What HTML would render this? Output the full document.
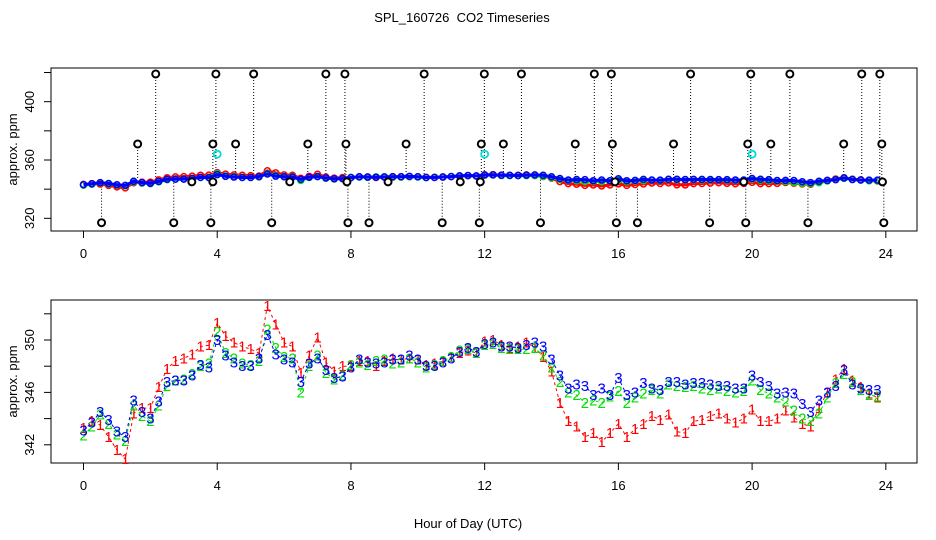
<!DOCTYPE html>
<html><head><meta charset="utf-8"><style>
html,body{margin:0;padding:0;background:#fff;}
svg{display:block;font-family:"Liberation Sans",sans-serif;}
</style></head><body>
<svg id="c" width="936" height="540" viewBox="0 0 936 540">
<text x="462" y="22" font-size="13" text-anchor="middle" style="white-space:pre">SPL_160726  CO2 Timeseries</text>
<text x="468" y="528" font-size="13" text-anchor="middle">Hour of Day (UTC)</text>
<g id="topPanel"></g>
<g id="botPanel"></g>
</svg>
<script>
const xTicks=[0,4,8,12,16,20,24];
const topTicks=[320,340,360,380,400,420];
const topLabels=[320,360,400];
const botTicks=[342,344,346,348,350,352];
const botLabels=[342,346,350];
const step=0.25;
const series3=[343.1,343.7,344.5,343.9,343.0,342.6,345.4,344.5,344.0,345.3,346.8,346.9,346.9,347.3,348.1,347.9,350.0,348.8,348.3,348.0,348.0,348.6,350.4,348.9,348.5,348.3,346.8,348.2,348.6,347.7,347.1,347.2,347.9,348.5,348.3,348.2,348.3,348.5,348.5,348.8,348.5,348.0,348.0,348.3,348.6,349.1,349.4,349.1,349.7,349.8,349.5,349.5,349.4,349.6,349.8,349.5,348.5,347.3,346.3,346.6,346.5,345.8,346.3,345.8,347.1,345.8,346.0,346.7,346.3,346.2,346.8,346.8,346.6,346.7,346.7,346.6,346.5,346.5,346.3,346.3,347.3,346.8,346.5,345.9,346.0,345.9,345.1,344.5,345.4,346.0,346.5,347.7,346.6,346.3,346.2,346.2];
const series2=[342.7,343.4,344.3,343.6,342.8,342.3,345.0,344.2,343.8,345.0,346.5,346.9,347.0,347.4,348.0,348.2,350.6,349.0,348.6,348.2,348.1,348.4,350.8,349.4,348.7,348.6,346.0,348.0,348.8,347.5,347.0,347.3,348.1,348.3,348.1,348.4,348.5,348.2,348.3,348.6,348.3,347.9,348.1,348.4,348.7,349.2,349.3,349.0,349.6,349.7,349.4,349.3,349.3,349.3,349.4,348.8,347.9,346.8,346.0,345.8,345.2,345.4,345.2,345.7,346.1,345.2,345.6,345.9,346.2,345.9,346.6,346.5,346.4,346.5,346.3,346.2,346.3,346.1,346.0,346.1,346.9,346.2,345.9,345.6,345.3,344.6,344.0,343.8,344.4,345.6,346.7,347.4,346.8,346.2,345.8,345.7];
const series1=[343.3,343.8,343.5,342.6,341.6,340.9,344.4,344.8,344.8,346.4,347.8,348.4,348.6,348.9,349.5,349.6,351.3,350.3,349.8,349.5,349.3,349.0,352.6,351.2,349.8,349.5,347.5,348.8,350.2,348.3,347.6,348.0,348.0,348.4,348.4,348.0,348.4,348.6,348.5,348.6,348.5,348.1,348.2,348.4,348.7,349.0,349.2,349.0,349.9,350.0,349.6,349.4,349.5,349.8,349.4,348.7,347.6,345.2,343.8,343.4,342.6,342.9,342.2,342.9,343.6,342.6,343.2,343.6,344.2,343.9,344.3,343.0,342.9,343.8,343.9,344.2,344.4,344.0,343.7,344.0,344.7,343.8,343.8,344.0,344.6,344.1,343.6,343.4,344.8,346.0,347.0,347.8,346.9,346.4,345.9,345.6];
const outT=[2.16,3.96,5.09,7.25,7.82,10.19,11.99,13.1,15.28,15.79,18.16,19.96,21.13,23.28,23.82,1.62,3.87,4.55,6.71,7.85,9.65,11.9,12.56,14.71,15.82,17.65,19.87,20.56,22.74,23.88,3.24,3.87,6.17,7.88,9.11,11.27,11.87,15.9,19.75,23.9,0.54,2.7,3.81,5.63,7.91,8.54,10.73,11.84,13.67,15.94,16.57,18.73,19.81,21.67,23.94];
const outV=[419,419,419,419,419,419,419,419,419,419,419,419,419,419,419,371,371,371,371,371,371,371,371,371,371,371,371,371,371,371,345,345,345,345,345,345,345,345,345,345,317,317,317,317,317,317,317,317,317,317,317,317,317,317,317];
const cyanT=[4.0,12.0,20.0];
const cyanV=[364,364,364];

const NS="http://www.w3.org/2000/svg";
function mk(p,tag,at){const e=document.createElementNS(NS,tag);for(const k in at)e.setAttribute(k,at[k]);p.appendChild(e);return e;}
const X=h=>83.5+h*33.43;
const yTop=v=>160-(v-360)*1.458;
const yBot=v=>340-(v-350)*13.1;
const colors=['#ff0000','#00e000','#0000ff'];
const allSeries=[series1,series2,series3];

function frame(g,y0,y1,yf,ticks,labels,name){
  const box=mk(g,'rect',{x:51,y:y0,width:866,height:y1-y0,fill:'none',stroke:'#000','stroke-width':1});
  
  
  xTicks.forEach(t=>{
    const l=mk(g,'line',{x1:X(t),x2:X(t),y1:y1,y2:y1+7,stroke:'#000'});
    
    
    const tx=mk(g,'text',{x:X(t),y:y1+27,'font-size':13,'text-anchor':'middle'});tx.textContent=t;
    
    
  });
  ticks.forEach(v=>{
    const l=mk(g,'line',{x1:44,x2:51,y1:yf(v),y2:yf(v),stroke:'#000'});
    
    
  });
  labels.forEach(v=>{
    const tx=mk(g,'text',{x:0,y:0,'font-size':13,'text-anchor':'middle',transform:`translate(34,${yf(v)}) rotate(-90)`});tx.textContent=v;
    
    
  });
  const yl=mk(g,'text',{x:0,y:0,'font-size':13,'text-anchor':'middle',transform:`translate(17,${(y0+y1)/2}) rotate(-90)`});yl.textContent='approx. ppm';
  
  
}
const topG=document.getElementById('topPanel'),botG=document.getElementById('botPanel');
frame(topG,68,231,yTop,topTicks,topLabels,'top');
frame(botG,300,463,yBot,botTicks,botLabels,'bottom');

outT.forEach((t,i)=>{
  const v=outV[i];
  const l=mk(topG,'line',{x1:X(t),x2:X(t),y1:yTop(v),y2:yTop(347),stroke:'#000','stroke-dasharray':'1,2','stroke-width':1});
  
  
});
allSeries.forEach((s,k)=>{
  const pl=mk(topG,'polyline',{points:s.map((v,i)=>X(i*step)+','+yTop(v)).join(' '),fill:'none',stroke:colors[k],'stroke-width':3,'stroke-linejoin':'round'});
  
  
  s.forEach((v,i)=>{
    const c=mk(topG,'circle',{cx:X(i*step),cy:yTop(v),r:3,fill:'none',stroke:colors[k],'stroke-width':1.5});
    
    
  });
});
outT.forEach((t,i)=>{
  const c=mk(topG,'circle',{cx:X(t),cy:yTop(outV[i]),r:3.5,fill:'#fff',stroke:'#000','stroke-width':2});
  
  
});
cyanT.forEach((t,i)=>{
  const c=mk(topG,'circle',{cx:X(t),cy:yTop(cyanV[i]),r:3.5,fill:'none',stroke:'#00dddd','stroke-width':1.8});
  
  
});

allSeries.forEach((s,k)=>{
  const pl=mk(botG,'polyline',{points:s.map((v,i)=>X(i*step)+','+yBot(v)).join(' '),fill:'none',stroke:colors[k],'stroke-width':1,'stroke-dasharray':'3,3'});
  
  
  s.forEach((v,i)=>{
    const t=mk(botG,'text',{x:X(i*step),y:yBot(v)+5,'font-size':15,'text-anchor':'middle',fill:colors[k]});
    t.textContent=String(k+1);
    
    
  });
});
</script>
</body></html>
